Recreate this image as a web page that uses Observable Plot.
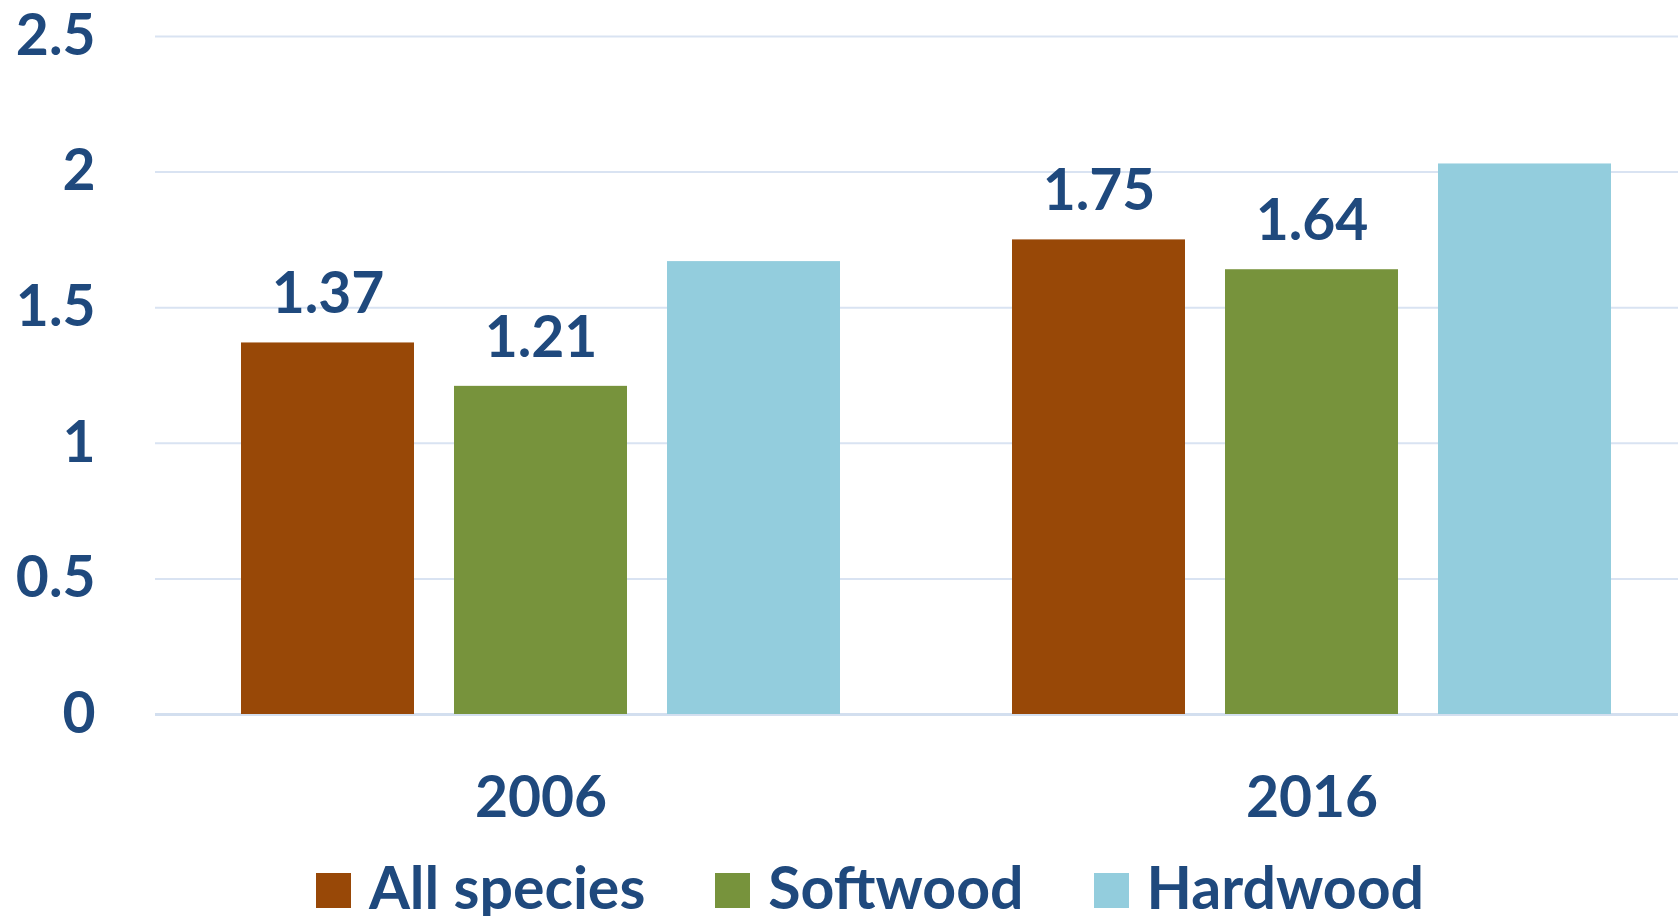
<!DOCTYPE html>
<html>
<head>
<meta charset="utf-8">
<script src="https://cdn.jsdelivr.net/npm/d3@7"></script>
<script src="https://cdn.jsdelivr.net/npm/@observablehq/plot@0.6"></script>
<style>
  html, body { margin: 0; padding: 0; background: #fff; overflow: hidden; }
  #chart svg { display: block; }
  #legend {
    width: 1740px; display: flex; justify-content: center; align-items: center;
    font-family: Lato, "Open Sans", sans-serif; font-weight: 700; font-size: 59px;
    line-height: 58px; color: #1F497D; margin-top: -2px;
  }
  .item { display: flex; align-items: center; margin: 0 35px; }
  .sw { width: 35px; height: 35px; margin-right: 18px; margin-top: 6px; }
</style>
</head>
<body>
<div id="chart"></div>
<div id="legend"></div>
<script>
const years = ["2006", "2016"];
const species = ["All species", "Softwood", "Hardwood"];
const values2006 = [1.37, 1.21, 1.67];
const values2016 = [1.75, 1.64, 2.03];
const showLabel = [true, true, false];
const colors = ["#984807", "#77933C", "#93CDDD"];
const yTicks = [0, 0.5, 1, 1.5, 2, 2.5];
const yTickLabels = ["0", "0.5", "1", "1.5", "2", "2.5"];

const textColor = "#1F497D";
const seriesValues = [values2006, values2016];
const rows = [];
years.forEach((yr, i) => species.forEach((sp, j) => rows.push({
  year: yr, species: sp, value: seriesValues[i][j], label: showLabel[j]
})));

const chart = Plot.plot({
  width: 1678,
  height: 860,
  marginLeft: 155,
  marginRight: -19,
  marginTop: 36,
  marginBottom: 146,
  style: {fontFamily: "Lato, 'Open Sans', sans-serif", fontWeight: "700", color: textColor, background: "#fff", overflow: "hidden"},
  fx: {domain: years, padding: 0, label: null},
  x: {domain: species, paddingInner: 0.19, paddingOuter: 0.4, axis: null},
  y: {domain: [0, 2.5], label: null},
  color: {domain: species, range: colors},
  marks: [
    Plot.ruleY(yTicks.filter(d => d > 0), {stroke: "#D9E3F2", strokeWidth: 2}),
    Plot.ruleY([0], {stroke: "#D3DFEF", strokeWidth: 3}),
    Plot.barY(rows, {fx: "year", x: "species", y: "value", fill: "species"}),
    Plot.text(rows.filter(d => d.label), {fx: "year", x: "species", y: "value", text: d => d.value.toFixed(2), dy: -48, fontSize: 57, fontWeight: 700, fill: textColor}),
    Plot.axisY(yTicks, {tickSize: 0, tickPadding: 60, fontSize: 57, fontWeight: 700, fill: textColor, tickFormat: (d, i) => yTickLabels[yTicks.indexOf(d)], label: null}),
    Plot.axisFx({anchor: "bottom", tickSize: 0, tickPadding: 62, fontSize: 57, fontWeight: 700, fill: textColor, label: null})
  ]
});
document.getElementById("chart").appendChild(chart);

const legend = document.getElementById("legend");
species.forEach((sp, i) => {
  const item = document.createElement("div");
  item.className = "item";
  const sw = document.createElement("span");
  sw.className = "sw";
  sw.style.background = colors[i];
  const t = document.createElement("span");
  t.textContent = sp;
  item.appendChild(sw);
  item.appendChild(t);
  legend.appendChild(item);
});
</script>
</body>
</html>
